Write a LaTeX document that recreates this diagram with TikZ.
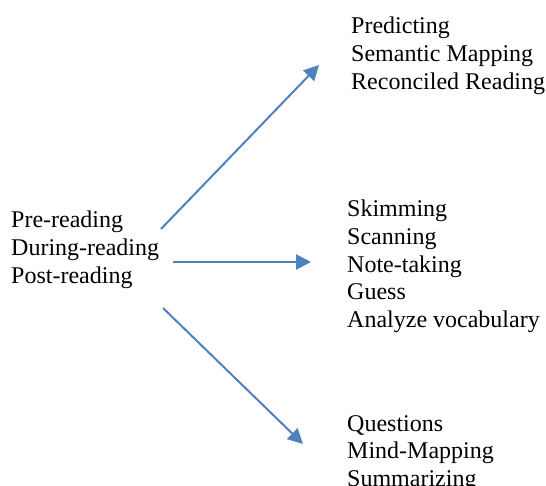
\documentclass[tikz,border=0pt]{standalone}
\usepackage{fontspec}
\setmainfont{Liberation Serif}
\usetikzlibrary{arrows.meta}
\definecolor{arrowblue}{RGB}{79,129,189}

\begin{document}
\begin{tikzpicture}[x=1pt,y=-1pt,
		stage/.style={align=left,anchor=north west,inner sep=0pt,font=\fontsize{24}{27.6}\selectfont},
		link/.style={draw=arrowblue,line width=2pt,-{Triangle[length=15pt,width=15pt]}}]
			\useasboundingbox (0,0) rectangle (546,486);

			\node[stage] (phases) at (11, 211) {Pre-reading\\During-reading\\Post-reading};

			\node[stage] (pre)    at (351, 17)  {Predicting\\Semantic Mapping\\Reconciled Reading};
			\node[stage] (during) at (347, 200) {Skimming\\Scanning\\Note-taking\\Guess\\Analyze vocabulary};
			\node[stage] (post)   at (347, 415) {Questions\\Mind-Mapping\\Summarizing};

			\coordinate (s1) at (161, 229);
			\coordinate (e1) at (319, 65);
			\coordinate (s2) at (173, 262);
			\coordinate (e2) at (311, 262);
			\coordinate (s3) at (163, 308);
			\coordinate (e3) at (303, 444);

			\draw[link] (s1) -- (e1);
			\draw[link] (s2) -- (e2);
			\draw[link] (s3) -- (e3);
		\end{tikzpicture}
\end{document}
